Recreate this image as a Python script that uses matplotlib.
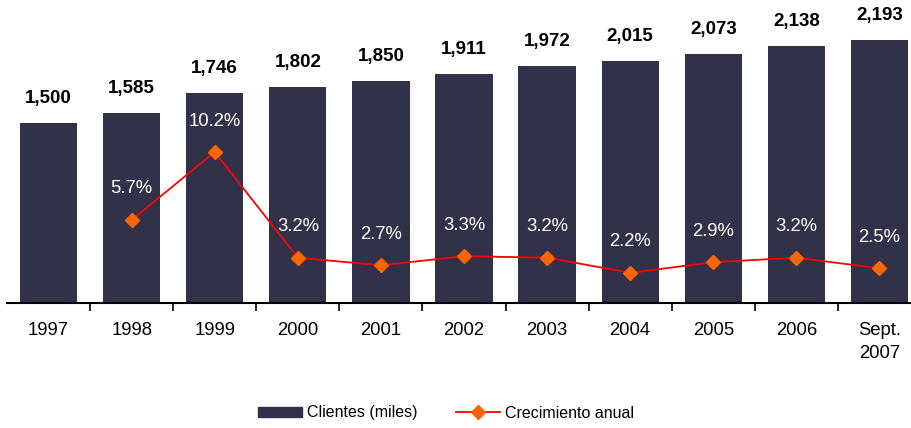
import numpy as np
import matplotlib
matplotlib.use("Agg")
import matplotlib.pyplot as plt
from matplotlib.lines import Line2D
from matplotlib.patches import Patch

plt.rcParams["font.family"] = ["Liberation Sans", "DejaVu Sans"]

years = ["1997", "1998", "1999", "2000", "2001", "2002", "2003", "2004",
         "2005", "2006", "Sept.\n2007"]
clientes = [1500, 1585, 1746, 1802, 1850, 1911, 1972, 2015, 2073, 2138, 2193]
crec_idx = [1, 2, 3, 4, 5, 6, 7, 8, 9, 10]
crecimiento = [5.7, 10.2, 3.2, 2.7, 3.3, 3.2, 2.2, 2.9, 3.2, 2.5]

bar_col = "#31314A"
W, H = 911, 428
fig = plt.figure(figsize=(W / 100, H / 100), dpi=100)
ax = fig.add_axes([7 / W, (H - 303) / H, (921 - 7) / W, 303 / H])

x = np.arange(len(years))
ax.bar(x, clientes, width=0.69, color=bar_col, zorder=2)
ax.set_xlim(-0.5, 10.5)
ax.set_ylim(0, 2525)
for xi, v in zip(x, clientes):
    ax.annotate(f"{v:,}", (xi, v), xytext=(0, 16), textcoords="offset pixels",
                ha="center", va="bottom", fontsize=13.5, fontweight="bold")

for s in ["top", "right", "left"]:
    ax.spines[s].set_visible(False)
ax.spines["bottom"].set_linewidth(1.5)
ax.set_yticks([])
ax.set_xticks(x)
ax.set_xticklabels(years, fontsize=13.3, linespacing=1.4)
ax.tick_params(axis="x", which="major", length=0, pad=14)
ax.set_xticks(np.arange(0.5, 10, 1), minor=True)
ax.tick_params(axis="x", which="minor", length=6, width=1.2, direction="out")

ax2 = ax.twinx()
ax2.set_ylim(0.2, 0.2 + 303 / 15.1)
ax2.axis("off")
ax2.plot(crec_idx, crecimiento, color="#FF0000", lw=1.3, marker="D",
         markersize=7, markerfacecolor="#FF6600", markeredgecolor="#FF6600",
         zorder=3)
for xi, v in zip(crec_idx, crecimiento):
    ax2.annotate(f"{v:.1f}%", (xi, v), xytext=(0, 31), textcoords="offset pixels",
                 ha="center", va="center", fontsize=13.3, color="white")

handles = [Patch(facecolor=bar_col, edgecolor=bar_col),
           Line2D([], [], color="#FF0000", lw=1.3, marker="D", markersize=7,
                  markerfacecolor="#FF6600", markeredgecolor="#FF6600")]
fig.legend(handles, ["Clientes (miles)", "Crecimiento anual"], loc="center",
           bbox_to_anchor=(446 / W, 1 - 413 / H), ncol=2, frameon=False,
           fontsize=11.5, handlelength=2.75, handleheight=0.6, columnspacing=2.4,
           handletextpad=0.3)

fig.savefig("out.png", dpi=100)
